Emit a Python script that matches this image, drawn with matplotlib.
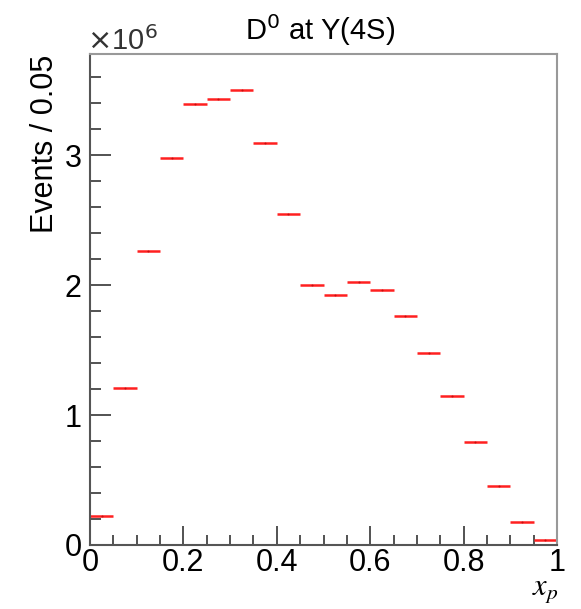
import numpy as np
import matplotlib
matplotlib.use("Agg")
import matplotlib.pyplot as plt
from matplotlib.ticker import MultipleLocator

plt.rcParams['font.family'] = ['Liberation Sans', 'DejaVu Sans']

bin_edges = np.linspace(0.0, 1.0, 21)
counts_e6 = [0.223, 1.21, 2.26, 2.98, 3.39, 3.43, 3.50, 3.09, 2.55, 2.00,
             1.92, 2.02, 1.96, 1.76, 1.48, 1.15, 0.795, 0.454, 0.175, 0.038]
x_ticks = [0, 0.2, 0.4, 0.6, 0.8, 1]
x_tick_labels = ["0", "0.2", "0.4", "0.6", "0.8", "1"]
y_ticks = [0, 1, 2, 3]
y_tick_labels = ["0", "1", "2", "3"]

centers = 0.5 * (bin_edges[:-1] + bin_edges[1:])
half_w = 0.5 * np.diff(bin_edges)

fig = plt.figure(figsize=(5.81, 6.09), dpi=100)
ax = fig.add_axes([90/581, 1-545/609, (557-90)/581, (545-54)/609])

ax.errorbar(centers, counts_e6, xerr=half_w, fmt='none', ecolor='#ff2020',
            elinewidth=1.8, capsize=0)
ax.plot(centers, counts_e6, linestyle='none', marker='.', markersize=1.0,
        color='#a00000', alpha=0.6)

ax.set_xlim(0, 1)
ax.set_ylim(0, 3.777)

ax.set_xticks(x_ticks)
ax.set_xticklabels(x_tick_labels)
ax.set_yticks(y_ticks)
ax.set_yticklabels(y_tick_labels)
ax.xaxis.set_minor_locator(MultipleLocator(0.05))
ax.yaxis.set_minor_locator(MultipleLocator(0.2))

ax.tick_params(which='both', direction='in', top=False, right=False, color='#444444')
ax.tick_params(which='major', length=14, width=1.3, labelsize=22, pad=2)
ax.tick_params(which='minor', length=7, width=1.3)
ax.tick_params(axis='y', which='major', length=15, pad=6)
ax.tick_params(axis='y', which='minor', length=8)

for side in ['left', 'bottom']:
    ax.spines[side].set_color('#555555')
    ax.spines[side].set_linewidth(1.5)
for side in ['top', 'right']:
    ax.spines[side].set_color('#999999')
    ax.spines[side].set_linewidth(1.5)

fig.text(320/581, 1-30/609, r"D$^0$ at Y(4S)", ha='center', va='center', fontsize=21)
fig.text(87/581, 1-41/609, r"$\times$10$^6$", ha='left', va='center', fontsize=21, color='#333333')
fig.text(45/581, 1-55/609, "Events / 0.05", rotation=90, ha='center', va='top', fontsize=22)
fig.text(545/581, 1-590/609, r"$x_p$", ha='center', va='center', fontsize=22,
         math_fontfamily='stix')

fig.savefig("out.png", dpi=100)
